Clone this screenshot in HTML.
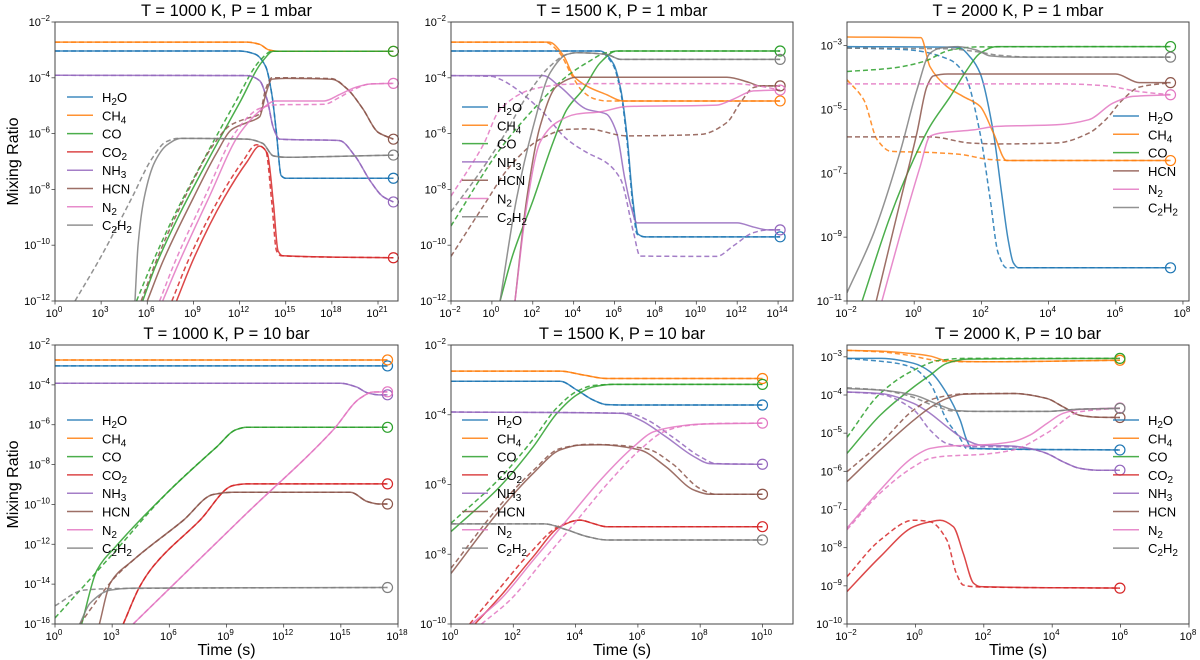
<!DOCTYPE html>
<html><head><meta charset="utf-8">
<style>
html,body{margin:0;padding:0;background:#fff;}
svg{display:block;font-family:"Liberation Sans","DejaVu Sans",sans-serif;}
</style></head>
<body>
<svg id="fig" width="1200" height="660" viewBox="0 0 1200 660" xmlns="http://www.w3.org/2000/svg"></svg>
<script>
// ---- data: [log10 time (s), log10 mixing ratio] ----
const species = ["H2O","CH4","CO","CO2","NH3","HCN","N2","C2H2"];
const speciesLabels = {H2O:["H","2","O"],CH4:["CH","4",""],CO:["CO","",""],CO2:["CO","2",""],NH3:["NH","3",""],HCN:["HCN","",""],N2:["N","2",""],C2H2:["C","2","H","2"]};
const colors = {H2O:"#1f77b4",CH4:"#ff7f0e",CO:"#2ca02c",CO2:"#d62728",NH3:"#9467bd",HCN:"#8c564b",N2:"#e377c2",C2H2:"#7f7f7f"};

// Panel 1: T=1000K, P=1 mbar
const p1_CH4 = [[0,-2.72],[12.5,-2.72],[13.3,-2.8],[13.9,-3.0],[14.5,-3.05],[22,-3.05]];
const p1_H2O = [[0,-3.04],[12,-3.04],[13,-3.15],[13.7,-3.6],[14.1,-4.6],[14.4,-6],[14.7,-7.5],[15,-7.6],[22,-7.6]];
const p1_CO = [[5.7,-12],[6.5,-10.8],[8,-9],[10,-6.9],[12,-4.9],[13.5,-3.4],[14.2,-3.05],[22,-3.05]];
const p1_CO_d = [[5.3,-12],[6.2,-10.8],[7.7,-9],[9.7,-6.9],[11.7,-4.9],[13.3,-3.4],[14.1,-3.05],[22,-3.05]];
const p1_CO2 = [[7.9,-12],[9,-10.5],[11,-8.3],[12.5,-7],[13.3,-6.45],[13.8,-6.7],[14.2,-8.5],[14.5,-10.2],[14.8,-10.38],[22,-10.45]];
const p1_CO2_d = [[7.6,-12],[8.7,-10.5],[10.7,-8.3],[12.2,-7],[13.1,-6.4],[13.7,-6.6],[14.1,-8.5],[14.4,-10.2],[14.7,-10.38],[22,-10.45]];
const p1_NH3 = [[0,-3.91],[12.5,-3.92],[13.3,-4.1],[13.8,-4.8],[14.2,-5.8],[14.6,-6.2],[18.5,-6.25],[19.5,-6.8],[20.5,-7.7],[21.3,-8.25],[22,-8.45]];
const p1_HCN = [[6,-12],[7,-10.6],[9,-8.3],[10.5,-6.7],[11.5,-5.85],[12.5,-5.6],[13.3,-5.4],[13.7,-4.6],[14.1,-4.05],[15,-4.02],[18,-4.05],[19,-4.4],[20,-5.1],[21,-5.95],[22,-6.2]];
const p1_HCN_d = [[5.6,-12],[6.7,-10.4],[8.7,-8],[10.3,-6.4],[11.4,-5.7],[12.5,-5.45],[13.3,-5.3],[13.7,-4.4],[14.1,-4.0],[15,-4.0],[18,-4.03],[19,-4.4],[20,-5.1],[21,-5.95],[22,-6.2]];
const p1_N2 = [[7,-12],[8,-10.7],[10,-8.3],[12,-6],[13.5,-5.1],[14.3,-4.83],[17.5,-4.83],[18.5,-4.6],[19.5,-4.35],[20.5,-4.22],[22,-4.2]];
const p1_N2_d = [[6.8,-12],[7.8,-10.6],[9.8,-8.2],[11.8,-5.9],[13.3,-5.1],[14.3,-4.97],[17.5,-4.95],[18.5,-4.7],[19.5,-4.4],[20.5,-4.22],[22,-4.2]];
const p1_C2H2 = [[5.2,-12],[5.4,-10],[5.8,-8.3],[6.5,-7],[7.3,-6.4],[8.2,-6.17],[12.5,-6.2],[13.5,-6.35],[14.2,-6.8],[15,-6.85],[18,-6.82],[22,-6.77]];
const p1_C2H2_d = [[1.3,-12],[3,-10.4],[5,-8.3],[6.3,-6.9],[7.2,-6.3],[8,-6.17],[12.5,-6.2],[13.5,-6.35],[14.2,-6.8],[15,-6.85],[18,-6.82],[22,-6.77]];

// Panel 2: T=1500K, P=1 mbar
const p2_CH4 = [[-2,-2.72],[2.8,-2.72],[3.5,-3.2],[4.0,-3.94],[4.65,-4.3],[5.6,-4.6],[6.4,-4.83],[14.1,-4.83]];
const p2_CH4_d = [[-2,-2.72],[2.6,-2.72],[3.3,-3.1],[3.9,-3.9],[4.4,-4.45],[5,-4.75],[5.6,-4.83],[14.1,-4.83]];
const p2_H2O = [[-2,-3.04],[5.3,-3.04],[5.95,-3.5],[6.3,-4.4],[6.6,-6],[6.9,-8.4],[7.15,-9.6],[7.5,-9.7],[14.1,-9.7]];
const p2_H2O_d = [[-2,-3.04],[5.2,-3.04],[5.9,-3.5],[6.3,-4.5],[6.6,-6.2],[6.9,-8.6],[7.1,-9.6],[7.5,-9.7],[14.1,-9.7]];
const p2_CO = [[0.4,-12],[1,-10.4],[2.03,-8.36],[3,-6.3],[3.67,-5.13],[4.48,-4.4],[5.3,-3.46],[6.1,-3.04],[14.1,-3.04]];
const p2_CO_d = [[-2,-9.31],[0.4,-6.56],[2.03,-5.13],[3.67,-3.94],[4.65,-3.46],[5.6,-3.1],[6.3,-3.04],[14.1,-3.04]];
const p2_C2H2 = [[0.4,-12],[1.2,-8.36],[2.03,-5.73],[2.85,-3.82],[3.67,-3.16],[4.15,-3.1],[5.6,-3.16],[6.3,-3.34],[14.1,-3.34]];
const p2_C2H2_d = [[-2,-8.8],[-0.5,-7.3],[0.4,-6.3],[2.03,-4.3],[2.85,-3.58],[3.67,-3.16],[4.15,-3.1],[5.6,-3.16],[6.3,-3.34],[14.1,-3.34]];
const p2_NH3 = [[-2,-3.92],[2.5,-3.92],[3.3,-4.3],[4.65,-5.13],[5.6,-5.3],[6.1,-5.96],[6.5,-7.6],[6.8,-8.6],[7.1,-9.2],[12,-9.2],[12.8,-9.35],[13.5,-9.45],[14.1,-9.45]];
const p2_NH3_d = [[-2,-3.92],[0,-3.95],[0.4,-4.05],[2.36,-5.13],[3.67,-6.2],[4.65,-6.68],[5.6,-7.04],[6.3,-7.64],[6.93,-9.55],[7.25,-10.39],[11,-10.4],[11.8,-10.03],[12.8,-9.55],[13.5,-9.45],[14.1,-9.45]];
const p2_HCN = [[1.13,-12],[1.7,-8.36],[2.36,-5.73],[3.17,-4.3],[4.15,-3.98],[11.5,-3.98],[12.6,-4.17],[13.1,-4.29],[14.1,-4.29]];
const p2_HCN_d = [[-2,-10.4],[-0.42,-8.6],[0.9,-7.16],[2.36,-6.2],[3.67,-5.85],[4.65,-5.83],[6.6,-6.08],[10.2,-6.03],[11.5,-5.6],[12.15,-4.9],[12.8,-4.35],[13.3,-4.29],[14.1,-4.29]];
const p2_N2 = [[1.13,-12],[1.7,-8.6],[2.36,-6.3],[3.17,-5.6],[4.15,-5.3],[5.3,-5.22],[6.6,-5.03],[11,-4.98],[11.8,-4.77],[12.8,-4.47],[14.1,-4.44]];
const p2_N2_d = [[-2,-8.24],[-0.42,-6.4],[0.4,-5.13],[2.03,-4.4],[3.67,-4.23],[5.3,-4.21],[11.8,-4.21],[13.1,-4.3],[14.1,-4.44]];

// Panel 3: T=2000K, P=1 mbar
const p3_CH4 = [[-2,-2.73],[0.2,-2.75],[0.47,-3.66],[0.97,-4.28],[1.47,-4.6],[1.96,-4.9],[2.36,-5.74],[2.75,-6.6],[7.63,-6.6]];
const p3_CH4_d = [[-2,-4.07],[-1.5,-4.7],[-1.1,-5.95],[-0.7,-6.31],[0.3,-6.34],[1.3,-6.4],[2.3,-6.57],[3,-6.6],[7.63,-6.6]];
const p3_H2O = [[-2,-3.03],[1.3,-3.05],[1.7,-3.4],[1.96,-3.86],[2.36,-5.74],[2.6,-7.6],[2.8,-9.1],[2.95,-9.8],[3.1,-9.96],[7.63,-9.96]];
const p3_H2O_d = [[-2,-3.07],[-0.2,-3.13],[1.07,-3.45],[1.5,-3.9],[1.96,-5.74],[2.26,-7.8],[2.5,-9.5],[2.75,-9.96],[7.63,-9.96]];
const p3_CO = [[-1.55,-11],[-0.71,-8.34],[-0.02,-6.57],[0.47,-5.53],[1.07,-4.6],[1.57,-3.76],[1.96,-3.24],[2.46,-3.03],[7.63,-3.03]];
const p3_CO_d = [[-2,-3.81],[-0.71,-3.71],[0.28,-3.5],[1.07,-3.14],[1.86,-3.04],[7.63,-3.03]];
const p3_HCN = [[-1.13,-11],[-0.4,-7.82],[0.08,-5.74],[0.38,-4.28],[0.57,-3.95],[1,-3.89],[6,-3.89],[6.7,-4.16],[7.63,-4.16]];
const p3_HCN_d = [[-2,-5.86],[0.5,-5.86],[1.66,-6.05],[2.46,-6.08],[4.24,-6.05],[5.2,-5.74],[5.7,-5.32],[6.2,-4.7],[6.7,-4.3],[7.63,-4.16]];
const p3_N2 = [[-0.96,-11],[-0.4,-8.86],[0.18,-6.78],[0.47,-5.84],[0.77,-5.74],[1.76,-5.64],[2.46,-5.53],[4.24,-5.48],[5.2,-5.32],[5.92,-4.8],[6.5,-4.59],[7.63,-4.54]];
const p3_N2_d = [[-2,-4.2],[4.5,-4.2],[5.7,-4.26],[6.7,-4.44],[7.63,-4.54]];
const p3_C2H2 = [[-2,-10.74],[-1.2,-8.86],[-0.4,-6.26],[0.08,-4.39],[0.47,-3.24],[0.77,-3.08],[1.3,-3.03],[1.86,-3.14],[2.26,-3.32],[3,-3.36],[7.63,-3.36]];
const p3_C2H2_d = [[-2,-3.08],[1,-3.1],[1.86,-3.19],[2.5,-3.3],[3.5,-3.36],[7.63,-3.36]];

// Panel 4: T=1000K, P=10 bar
const p4_CH4 = [[0,-2.75],[17.45,-2.75]];
const p4_H2O = [[0,-3.05],[17.45,-3.05]];
const p4_NH3 = [[0,-3.92],[15,-3.92],[15.8,-4.1],[16.4,-4.4],[17,-4.5],[17.45,-4.5]];
const p4_N2 = [[4.1,-16],[10,-10.5],[14.6,-6.26],[16,-4.68],[16.7,-4.36],[17.45,-4.35]];
const p4_CO = [[1.4,-16],[2.2,-13.3],[3.2,-12.1],[5.86,-9.44],[8.5,-7.1],[9.5,-6.25],[10.05,-6.13],[17.45,-6.13]];
const p4_CO_d = [[0,-15.7],[3.06,-12.45],[5.86,-9.44],[8.5,-7.1],[9.5,-6.25],[10.05,-6.13],[17.45,-6.13]];
const p4_HCN = [[2.33,-16],[2.9,-13.95],[4.1,-12.8],[6.73,-10.8],[8.3,-9.5],[9.35,-9.39],[15.5,-9.39],[16.4,-9.86],[17,-9.98],[17.45,-9.98]];
const p4_HCN_d = [[1.3,-16],[3.2,-13.6],[4.1,-12.8],[6.73,-10.8],[8.3,-9.5],[9.35,-9.39],[15.5,-9.39],[16.4,-9.86],[17,-9.98],[17.45,-9.98]];
const p4_CO2 = [[3.58,-16],[4.46,-14.1],[5.16,-13.1],[7.6,-10.8],[9.35,-9.05],[10.05,-8.97],[17.45,-8.97]];
const p4_C2H2 = [[1.3,-16],[1.84,-14.96],[2.9,-14.3],[4.1,-14.2],[17.45,-14.17]];
const p4_C2H2_d = [[0,-15.09],[1.5,-14.3],[3.2,-14.22],[17.45,-14.17]];

// Panel 5: T=1500K, P=10 bar
const p5_CH4 = [[0,-2.75],[3.5,-2.75],[4.25,-2.86],[5,-2.96],[10,-2.96]];
const p5_H2O = [[0,-3.04],[3.5,-3.04],[4.04,-3.29],[4.57,-3.58],[5,-3.71],[5.5,-3.72],[10,-3.72]];
const p5_CO = [[0,-7.35],[1.57,-6.06],[2.64,-4.92],[3.4,-3.96],[4.04,-3.43],[4.57,-3.2],[5.2,-3.13],[10,-3.13]];
const p5_CO_d = [[0,-7.11],[1.57,-5.82],[2.64,-4.7],[3.4,-3.8],[4.04,-3.33],[4.57,-3.16],[5.2,-3.13],[10,-3.13]];
const p5_NH3 = [[0,-3.92],[5.5,-3.96],[6.07,-4.15],[6.9,-4.63],[7.8,-5.2],[8.3,-5.4],[10,-5.42]];
const p5_NH3_d = [[0,-3.92],[5.7,-3.96],[6.3,-4.15],[7.1,-4.63],[8,-5.2],[8.5,-5.4],[10,-5.42]];
const p5_HCN = [[0,-8.55],[1.57,-6.73],[2.64,-5.68],[3.5,-5.01],[4.14,-4.87],[4.8,-4.86],[6.07,-5.01],[6.9,-5.49],[7.8,-6.16],[8.3,-6.28],[10,-6.28]];
const p5_HCN_d = [[0,-8.4],[1.57,-6.6],[2.64,-5.6],[3.5,-4.97],[4.4,-4.85],[5,-4.86],[6.3,-4.98],[7.1,-5.4],[8,-6.12],[8.5,-6.28],[10,-6.28]];
const p5_N2 = [[0.66,-10],[1.57,-9.31],[2.64,-8.17],[3.72,-7.02],[4.8,-5.87],[5.86,-4.92],[6.5,-4.49],[7.14,-4.35],[8,-4.27],[10,-4.24]];
const p5_N2_d = [[0.98,-10],[1.9,-9.31],[2.97,-8.17],[4.05,-7.02],[5.13,-5.87],[6.1,-4.98],[6.8,-4.5],[7.5,-4.32],[8.5,-4.25],[10,-4.24]];
const p5_CO2 = [[0.77,-10],[1.57,-9.22],[2.64,-8.07],[3.5,-7.21],[4.14,-7.02],[4.57,-7.12],[5,-7.21],[10,-7.21]];
const p5_CO2_d = [[0.6,-10],[1.4,-9.15],[2.5,-8.0],[3.5,-7.18],[4.14,-7.02],[4.57,-7.12],[5,-7.21],[10,-7.21]];
const p5_C2H2 = [[0,-7.13],[3,-7.13],[3.72,-7.3],[4.36,-7.49],[5,-7.59],[10,-7.59]];

// Panel 6: T=2000K, P=10 bar
const p6_CH4 = [[-2,-2.83],[-1.03,-2.85],[-0.05,-2.92],[0.43,-2.98],[0.92,-3.1],[1.89,-3.13],[5.98,-3.09]];
const p6_CH4_d = [[-2,-2.83],[-1.03,-2.87],[-0.2,-2.96],[0.3,-3.05],[0.8,-3.12],[1.89,-3.13],[5.98,-3.09]];
const p6_CO = [[-2,-5.53],[-1.03,-4.53],[-0.05,-3.79],[0.43,-3.48],[0.92,-3.17],[1.5,-3.06],[5.98,-3.04]];
const p6_CO_d = [[-2,-5.11],[-1.03,-3.96],[-0.05,-3.35],[0.72,-3.09],[1.5,-3.04],[5.98,-3.04]];
const p6_H2O = [[-2,-3.04],[-1,-3.04],[-0.05,-3.17],[0.43,-3.39],[0.92,-3.96],[1.31,-4.66],[1.5,-5.18],[1.65,-5.4],[5.98,-5.44]];
const p6_H2O_d = [[-2,-3.04],[-0.54,-3.17],[-0.05,-3.3],[0.43,-3.7],[0.92,-4.66],[1.31,-5.14],[1.5,-5.4],[5.98,-5.44]];
const p6_C2H2 = [[-2,-3.83],[-1.03,-3.87],[-0.05,-4.0],[0.72,-4.27],[1.2,-4.41],[1.89,-4.43],[3.84,-4.43],[4.8,-4.37],[5.98,-4.35]];
const p6_C2H2_d = [[-2,-3.81],[-1.03,-3.87],[-0.2,-4.02],[0.6,-4.3],[1.1,-4.42],[1.89,-4.43],[3.84,-4.43],[4.8,-4.37],[5.98,-4.35]];
const p6_NH3 = [[-2,-3.92],[-1.03,-3.96],[-0.05,-4.22],[0.43,-4.48],[0.92,-4.83],[1.4,-5.14],[1.89,-5.31],[2.86,-5.34],[3.35,-5.4],[3.84,-5.53],[4.32,-5.75],[4.8,-5.92],[5.3,-5.97],[5.98,-5.97]];
const p6_NH3_d = [[-2,-3.92],[-1.03,-3.98],[-0.05,-4.39],[0.43,-4.92],[0.92,-5.27],[1.4,-5.35],[2.86,-5.36],[3.35,-5.41],[3.84,-5.53],[4.32,-5.75],[4.8,-5.92],[5.3,-5.97],[5.98,-5.97]];
const p6_HCN = [[-2,-6.27],[-1.03,-5.44],[-0.05,-4.66],[0.43,-4.33],[0.92,-4.09],[1.4,-3.98],[2.86,-3.96],[3.84,-4.09],[4.32,-4.31],[4.8,-4.53],[5.3,-4.58],[5.98,-4.59]];
const p6_HCN_d = [[-2,-6.01],[-1.03,-5.27],[-0.05,-4.39],[0.43,-4.13],[0.92,-4.02],[1.4,-3.97],[2.86,-3.96],[3.84,-4.09],[4.32,-4.31],[4.8,-4.53],[5.3,-4.58],[5.98,-4.59]];
const p6_N2 = [[-2,-7.49],[-1.03,-6.49],[-0.05,-5.62],[0.43,-5.4],[0.92,-5.34],[1.89,-5.31],[2.86,-5.22],[3.35,-5.05],[3.84,-4.75],[4.32,-4.48],[4.8,-4.38],[5.98,-4.34]];
const p6_N2_d = [[-2,-7.53],[-1.03,-6.57],[-0.05,-5.88],[0.43,-5.66],[0.92,-5.6],[1.89,-5.56],[2.86,-5.44],[3.84,-5.0],[4.8,-4.44],[5.98,-4.34]];
const p6_CO2 = [[-2,-9.15],[-1.03,-8.24],[-0.05,-7.45],[0.43,-7.32],[0.72,-7.28],[1.11,-7.45],[1.4,-8.15],[1.7,-8.93],[1.89,-9.02],[5.98,-9.06]];
const p6_CO2_d = [[-2,-8.76],[-1.03,-7.8],[-0.05,-7.28],[0.43,-7.32],[0.92,-7.8],[1.2,-8.68],[1.4,-8.98],[1.89,-9.03],[5.98,-9.06]];

// tick values (log10)
const p1_xticks=[0,3,6,9,12,15,18,21], p1_yticks=[-2,-4,-6,-8,-10,-12];
const p2_xticks=[-2,0,2,4,6,8,10,12,14], p2_yticks=[-2,-4,-6,-8,-10,-12];
const p3_xticks=[-2,0,2,4,6,8], p3_yticks=[-3,-5,-7,-9,-11];
const p4_xticks=[0,3,6,9,12,15,18], p4_yticks=[-2,-4,-6,-8,-10,-12,-14,-16];
const p5_xticks=[0,2,4,6,8,10], p5_yticks=[-2,-4,-6,-8,-10];
const p6_xticks=[-2,0,2,4,6,8], p6_yticks=[-3,-4,-5,-6,-7,-8,-9,-10];

const panels = [
 {id:"p1",title:"T = 1000 K, P = 1 mbar",box:[55,22,398,301],xr:[0,22.3],yr:[-2,-12],xt:p1_xticks,yt:p1_yticks,ylab:true,xlab:false,
  leg:{x:67,y:97,sp:["H2O","CH4","CO","CO2","NH3","HCN","N2","C2H2"]},
  ser:{H2O:[p1_H2O,p1_H2O],CH4:[p1_CH4,p1_CH4],CO:[p1_CO,p1_CO_d],CO2:[p1_CO2,p1_CO2_d],NH3:[p1_NH3,p1_NH3],HCN:[p1_HCN,p1_HCN_d],N2:[p1_N2,p1_N2_d],C2H2:[p1_C2H2,p1_C2H2_d]}},
 {id:"p2",title:"T = 1500 K, P = 1 mbar",box:[451,22,793,301],xr:[-2,14.73],yr:[-2,-12],xt:p2_xticks,yt:p2_yticks,ylab:false,xlab:false,
  leg:{x:462,y:107,sp:["H2O","CH4","CO","NH3","HCN","N2","C2H2"]},
  ser:{H2O:[p2_H2O,p2_H2O_d],CH4:[p2_CH4,p2_CH4_d],CO:[p2_CO,p2_CO_d],NH3:[p2_NH3,p2_NH3_d],HCN:[p2_HCN,p2_HCN_d],N2:[p2_N2,p2_N2_d],C2H2:[p2_C2H2,p2_C2H2_d]}},
 {id:"p3",title:"T = 2000 K, P = 1 mbar",box:[847,22,1189,301],xr:[-2,8.18],yr:[-2.26,-11],xt:p3_xticks,yt:p3_yticks,ylab:false,xlab:false,
  leg:{x:1113,y:116,sp:["H2O","CH4","CO","HCN","N2","C2H2"]},
  ser:{H2O:[p3_H2O,p3_H2O_d],CH4:[p3_CH4,p3_CH4_d],CO:[p3_CO,p3_CO_d],HCN:[p3_HCN,p3_HCN_d],N2:[p3_N2,p3_N2_d],C2H2:[p3_C2H2,p3_C2H2_d]}},
 {id:"p4",title:"T = 1000 K, P = 10 bar",box:[55,345,398,624],xr:[0,18],yr:[-2,-16],xt:p4_xticks,yt:p4_yticks,ylab:true,xlab:true,
  leg:{x:67,y:420,sp:["H2O","CH4","CO","CO2","NH3","HCN","N2","C2H2"]},
  ser:{H2O:[p4_H2O,p4_H2O],CH4:[p4_CH4,p4_CH4],CO:[p4_CO,p4_CO_d],CO2:[p4_CO2,p4_CO2],NH3:[p4_NH3,p4_NH3],HCN:[p4_HCN,p4_HCN_d],N2:[p4_N2,p4_N2],C2H2:[p4_C2H2,p4_C2H2_d]}},
 {id:"p5",title:"T = 1500 K, P = 10 bar",box:[451,345,793,624],xr:[0,10.98],yr:[-2,-10],xt:p5_xticks,yt:p5_yticks,ylab:false,xlab:true,
  leg:{x:462,y:420,sp:["H2O","CH4","CO","CO2","NH3","HCN","N2","C2H2"]},
  ser:{H2O:[p5_H2O,p5_H2O],CH4:[p5_CH4,p5_CH4],CO:[p5_CO,p5_CO_d],CO2:[p5_CO2,p5_CO2_d],NH3:[p5_NH3,p5_NH3_d],HCN:[p5_HCN,p5_HCN_d],N2:[p5_N2,p5_N2_d],C2H2:[p5_C2H2,p5_C2H2]}},
 {id:"p6",title:"T = 2000 K, P = 10 bar",box:[847,345,1189,624],xr:[-2,8],yr:[-2.69,-10],xt:p6_xticks,yt:p6_yticks,ylab:false,xlab:true,
  leg:{x:1113,y:420,sp:["H2O","CH4","CO","CO2","NH3","HCN","N2","C2H2"]},
  ser:{H2O:[p6_H2O,p6_H2O_d],CH4:[p6_CH4,p6_CH4_d],CO:[p6_CO,p6_CO_d],CO2:[p6_CO2,p6_CO2_d],NH3:[p6_NH3,p6_NH3_d],HCN:[p6_HCN,p6_HCN_d],N2:[p6_N2,p6_N2_d],C2H2:[p6_C2H2,p6_C2H2_d]}}
];

const NS="http://www.w3.org/2000/svg";
const svg=document.getElementById("fig");
function mk(tag,attrs,parent){const e=document.createElementNS(NS,tag);for(const k in attrs)e.setAttribute(k,attrs[k]);(parent||svg).appendChild(e);return e;}

function monoPath(pts){
  const n=pts.length; if(n<2) return "";
  const dx=[],dy=[],m=[];
  for(let i=0;i<n-1;i++){dx.push(pts[i+1][0]-pts[i][0]);dy.push(pts[i+1][1]-pts[i][1]);m.push(dy[i]/dx[i]);}
  const t=[m[0]];
  for(let i=1;i<n-1;i++){ if(m[i-1]*m[i]<=0) t.push(0); else t.push(3*(dx[i-1]+dx[i])/((2*dx[i]+dx[i-1])/m[i-1]+(dx[i]+2*dx[i-1])/m[i])); }
  t.push(m[n-2]);
  let d="M"+pts[0][0].toFixed(2)+","+pts[0][1].toFixed(2);
  for(let i=0;i<n-1;i++){
    const h=dx[i]/3;
    d+=" C"+(pts[i][0]+h).toFixed(2)+","+(pts[i][1]+h*t[i]).toFixed(2)+" "+(pts[i+1][0]-h).toFixed(2)+","+(pts[i+1][1]-h*t[i+1]).toFixed(2)+" "+pts[i+1][0].toFixed(2)+","+pts[i+1][1].toFixed(2);
  }
  return d;
}
function addLabel(textEl,parts,subSize){
  parts.forEach((p,i)=>{ if(!p) return; const ts=mk("tspan",{},textEl);
    if(i%2===1){ts.setAttribute("font-size",subSize);ts.setAttribute("dy","3");}
    else if(i>0){ts.setAttribute("dy","-3");}
    ts.textContent=p; });
}

panels.forEach(P=>{
  const [x0,y0,x1,y1]=P.box;
  const X=v=>x0+(v-P.xr[0])/(P.xr[1]-P.xr[0])*(x1-x0);
  const Y=v=>y0+(v-P.yr[0])/(P.yr[1]-P.yr[0])*(y1-y0);
  const g=mk("g",{});
  
  
  const cp=mk("clipPath",{id:"clip-"+P.id},g); mk("rect",{x:x0,y:y0,width:x1-x0,height:y1-y0},cp);
  const tt=mk("text",{x:(x0+x1)/2,y:y0-6,"text-anchor":"middle","font-size":"16.5"},g);
  
  
  tt.textContent=P.title;
  const cg=mk("g",{"clip-path":"url(#clip-"+P.id+")"},g);
  Object.keys(P.ser).forEach(sp=>{
    const [sol,dash]=P.ser[sp];
    const ps=mk("path",{d:monoPath(sol.map(p=>[X(p[0]),Y(p[1])])),fill:"none",stroke:colors[sp],"stroke-width":"1.5","stroke-opacity":"0.85"},cg);
    
    
    const pd=mk("path",{d:monoPath(dash.map(p=>[X(p[0]),Y(p[1])])),fill:"none",stroke:colors[sp],"stroke-width":"1.5","stroke-dasharray":"5,3","stroke-opacity":"0.85"},cg);
    
    
    const last=sol[sol.length-1];
    const c=mk("circle",{cx:X(last[0]),cy:Y(last[1]),r:"5",fill:"none",stroke:colors[sp],"stroke-width":"1.2"},g);
    
    
  });
  const fr=mk("rect",{x:x0,y:y0,width:x1-x0,height:y1-y0,fill:"none",stroke:"#444","stroke-width":"1"},g);
  
  
  P.xt.forEach(v=>{
    const x=X(v); mk("line",{x1:x,x2:x,y1:y1,y2:y1+3.5,stroke:"#444","stroke-width":"0.8"},g);
    const t=mk("text",{x:x-1,y:y1+16,"text-anchor":"middle","font-size":"11"},g);
    
    
    mk("tspan",{},t).textContent="10";
    const s=mk("tspan",{dy:"-5","font-size":"8"},t); s.textContent=String(v).replace("-","\u2212");
  });
  P.yt.forEach(v=>{
    const y=Y(v); mk("line",{x1:x0-3.5,x2:x0,y1:y,y2:y,stroke:"#444","stroke-width":"0.8"},g);
    const t=mk("text",{x:x0-5,y:y+4,"text-anchor":"end","font-size":"11"},g);
    
    
    mk("tspan",{},t).textContent="10";
    const s=mk("tspan",{dy:"-5","font-size":"8"},t); s.textContent=String(v).replace("-","\u2212");
  });
  if(P.ylab){
    const yl=mk("text",{x:0,y:0,"text-anchor":"middle","font-size":"16",transform:"translate(18,"+((y0+y1)/2)+") rotate(-90)"},g);
    
    
    yl.textContent="Mixing Ratio";
  }
  if(P.xlab){
    const xl=mk("text",{x:(x0+x1)/2,y:655,"text-anchor":"middle","font-size":"16"},g);
    
    
    xl.textContent="Time (s)";
  }
  const lg=mk("g",{},g);
  
  
  P.leg.sp.forEach((sp,i)=>{
    const y=P.leg.y+i*18.3;
    const e=mk("g",{},lg);
    
    
    mk("line",{x1:P.leg.x,x2:P.leg.x+26,y1:y,y2:y,stroke:colors[sp],"stroke-width":"1.5","stroke-opacity":"0.85"},e);
    const t=mk("text",{x:P.leg.x+35,y:y+5,"font-size":"13"},e);
    addLabel(t,speciesLabels[sp],"10");
  });
});
</script>
</body></html>
